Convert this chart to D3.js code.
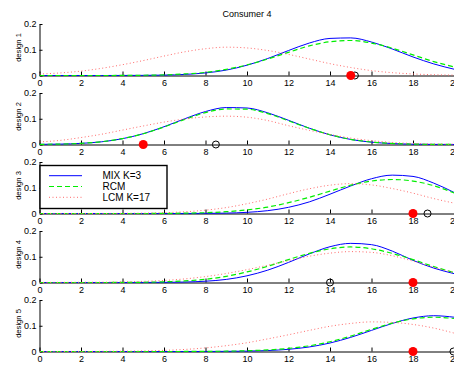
<!DOCTYPE html>
<html><head><meta charset="utf-8">
<script src="https://cdn.jsdelivr.net/npm/d3@7"></script>
<style>body{margin:0;background:#fff}svg{display:block}text{font-family:"Liberation Sans",Arial,Helvetica,sans-serif}</style>
</head><body><svg id="c" width="454" height="371"></svg>
<script>
const chartTitle = "Consumer 4";
const designLabels = ["design 1","design 2","design 3","design 4","design 5"];
const seriesNames = ["MIX K=3","RCM","LCM K=17"];
const xGrid = [0,1,2,3,4,5,6,7,8,9,10,11,12,13,14,15,16,17,18,19,20];
const xTicks = [0,2,4,6,8,10,12,14,16,18,20];
const yTicks = [0,0.1,0.2];

const mixD1 = [0,0,0,0,0.0002,0.0005,0.0016,0.0042,0.010,0.021,0.040,0.066,0.097,0.126,0.144,0.146,0.130,0.103,0.072,0.045,0.024];
const rcmD1 = [0,0,0,0,0.0003,0.0009,0.0024,0.006,0.012,0.024,0.041,0.064,0.090,0.115,0.131,0.136,0.126,0.106,0.080,0.054,0.033];
const lcmD1 = [0.0055,0.010,0.017,0.028,0.042,0.058,0.0755,0.092,0.104,0.110,0.107,0.097,0.082,0.064,0.046,0.031,0.019,0.011,0.006,0.003,0.0015];

const mixD2 = [0.0005,0.0016,0.0044,0.0106,0.0226,0.042,0.069,0.100,0.128,0.1435,0.1417,0.123,0.094,0.0634,0.0376,0.0196,0.009,0.0037,0.0013,0.0004,0.0001];
const rcmD2 = [0.0006,0.0017,0.0046,0.011,0.023,0.042,0.068,0.097,0.124,0.138,0.137,0.120,0.092,0.063,0.038,0.020,0.0095,0.004,0.0015,0.0005,0.0002];
const lcmD2 = [0.010,0.016,0.027,0.040,0.056,0.072,0.087,0.099,0.107,0.110,0.106,0.093,0.073,0.055,0.039,0.025,0.015,0.008,0.004,0.002,0.001];

const mixD3 = [0,0,0,0,0,0,0,0.0001,0.0005,0.0015,0.0045,0.011,0.024,0.045,0.075,0.107,0.135,0.149,0.144,0.118,0.081];
const rcmD3 = [0,0,0,0,0,0,0.0005,0.0013,0.003,0.007,0.014,0.025,0.042,0.063,0.087,0.110,0.126,0.132,0.126,0.108,0.079];
const lcmD3 = [0,0,0,0,0.0005,0.0013,0.0031,0.0067,0.013,0.023,0.038,0.056,0.077,0.096,0.110,0.116,0.111,0.097,0.079,0.058,0.040];

const mixD4 = [0,0,0,0,0,0.0002,0.0006,0.0018,0.005,0.012,0.026,0.048,0.078,0.111,0.139,0.152,0.147,0.122,0.086,0.056,0.034];
const rcmD4 = [0,0,0,0,0.0004,0.001,0.0026,0.006,0.0126,0.024,0.041,0.063,0.089,0.113,0.131,0.138,0.131,0.113,0.089,0.062,0.038];
const lcmD4 = [0.0002,0.0005,0.0008,0.001,0.0022,0.0044,0.008,0.014,0.023,0.035,0.050,0.067,0.085,0.102,0.114,0.120,0.117,0.104,0.083,0.059,0.038];

const mixD5 = [0,0,0,0,0,0,0,0,0.0001,0.0005,0.0014,0.0037,0.0085,0.0176,0.033,0.055,0.082,0.109,0.130,0.139,0.133];
const rcmD5 = [0,0,0,0,0,0,0,0.0001,0.0004,0.0012,0.003,0.006,0.012,0.022,0.038,0.060,0.086,0.110,0.127,0.133,0.128];
const lcmD5 = [0,0,0.0002,0.0005,0.0011,0.0023,0.0045,0.008,0.014,0.0226,0.034,0.049,0.065,0.082,0.098,0.109,0.115,0.113,0.105,0.091,0.071];

const actualChoice = [15,5,18,18,18];
const predictedChoice = [15.2,8.5,18.7,14,19.95];

const mixAll = [mixD1,mixD2,mixD3,mixD4,mixD5];
const rcmAll = [rcmD1,rcmD2,rcmD3,rcmD4,rcmD5];
const lcmAll = [lcmD1,lcmD2,lcmD3,lcmD4,lcmD5];

const svg = d3.select("#c");
const x = d3.scaleLinear().domain([0,20]).range([39.5,454.5]);
const panelH = 51.5;
const styles = [
  {stroke:"#0000ff", dash:null, width:1},
  {stroke:"#00ee00", dash:"5,3", width:1.2},
  {stroke:"#ff6a6a", dash:"1,2.5", width:1}
];

svg.append("text").attr("x",247).attr("y",17).attr("text-anchor","middle")
  .attr("font-size",9).text(chartTitle);

designLabels.forEach((lab,i)=>{
  const top = 24 + 69*i;
  const y = d3.scaleLinear().domain([0,0.2]).range([top+panelH, top]);
  const g = svg.append("g");
  const xa = g.append("g").attr("transform",`translate(0,${top+panelH})`)
    .call(d3.axisBottom(x).tickValues(xTicks).tickSizeInner(-4).tickSizeOuter(0).tickPadding(4).tickFormat(d3.format("d")));
  const ya = g.append("g").attr("transform","translate(39.5,0)")
    .call(d3.axisLeft(y).tickValues(yTicks).tickSizeInner(-3).tickSizeOuter(0).tickPadding(3)
      .tickFormat(d=> d===0 ? "0" : d3.format(".1f")(d)));
  [xa,ya].forEach(a=>{
    a.selectAll("text").attr("font-size",9).attr("font-family","Liberation Sans, Arial, sans-serif").attr("fill","#000");
    a.selectAll("path,line").attr("stroke","#000");
  });
  svg.append("text").attr("transform",`translate(18.5,${top+23.5}) rotate(-90)`)
    .attr("text-anchor","middle").attr("dy","0.33em").attr("font-size",7.6).text(lab);

  const line = d3.line().x((d,j)=>x(xGrid[j])).y(d=>y(d)).curve(d3.curveMonotoneX);
  [mixAll[i],rcmAll[i],lcmAll[i]].forEach((arr,k)=>{
    g.append("path").attr("d",line(arr)).attr("fill","none")
      .attr("stroke",styles[k].stroke).attr("stroke-width",styles[k].width)
      .attr("stroke-dasharray",styles[k].dash);
  });
  g.append("circle").attr("cx",x(predictedChoice[i])).attr("cy",y(0)).attr("r",3.5)
    .attr("fill","none").attr("stroke","#000").attr("stroke-width",1);
  g.append("circle").attr("cx",x(actualChoice[i])).attr("cy",y(0)).attr("r",4.5)
    .attr("fill","#ff0000");
});

// legend in panel 3
const leg = svg.append("g");
leg.append("rect").attr("x",40).attr("y",165.5).attr("width",127).attr("height",43)
  .attr("fill","#fff").attr("stroke","#000").attr("stroke-width",1.4);
seriesNames.forEach((name,k)=>{
  const ly = 175.7 + 10.8*k;
  leg.append("line").attr("x1",49).attr("x2",82).attr("y1",ly).attr("y2",ly)
    .attr("stroke",styles[k].stroke).attr("stroke-width",styles[k].width)
    .attr("stroke-dasharray",styles[k].dash);
  leg.append("text").attr("x",102.5).attr("y",ly).attr("dy","0.35em")
    .attr("font-size",10).text(name);
});
</script></body></html>
